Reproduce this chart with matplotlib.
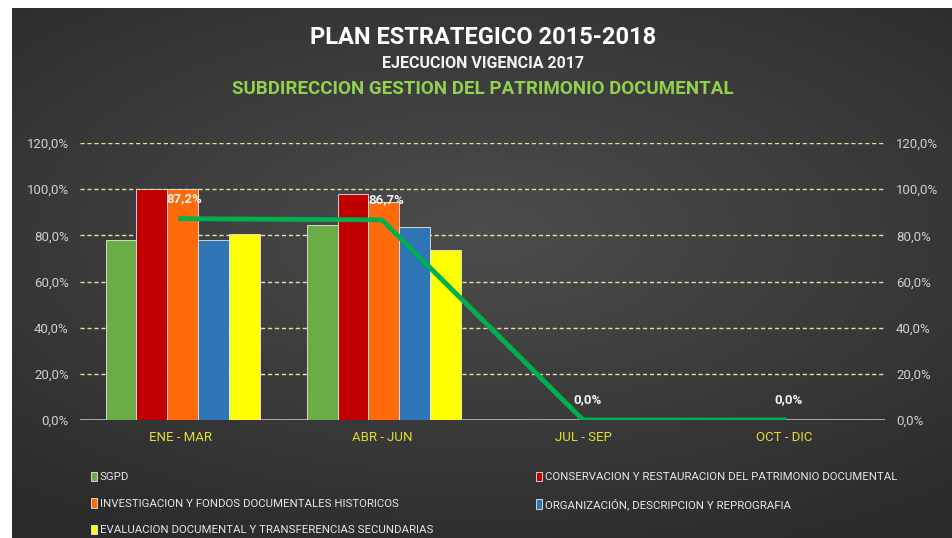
import numpy as np
import matplotlib.pyplot as plt
from matplotlib.patches import Patch

plt.rcParams['font.family'] = ['Roboto', 'DejaVu Sans']

# datos
periodos = ['ENE - MAR', 'ABR - JUN', 'JUL - SEP', 'OCT - DIC']
series = ['SGPD',
          'CONSERVACION Y RESTAURACION DEL PATRIMONIO DOCUMENTAL',
          'INVESTIGACION Y FONDOS DOCUMENTALES HISTORICOS',
          'ORGANIZACIÓN, DESCRIPCION Y REPROGRAFIA',
          'EVALUACION DOCUMENTAL Y TRANSFERENCIAS SECUNDARIAS']
sgpd = [0.78, 0.845, 0.0, 0.0]
conservacion = [1.00, 0.98, 0.0, 0.0]
investigacion = [1.00, 0.945, 0.0, 0.0]
organizacion = [0.78, 0.835, 0.0, 0.0]
evaluacion = [0.805, 0.735, 0.0, 0.0]
promedio = [0.872, 0.867, 0.0, 0.0]
colores = ['#6aac46', '#c00000', '#ff6a0a', '#2e75b6', '#ffff00']

fig = plt.figure(figsize=(9.53, 5.38), dpi=100, facecolor='white')

# fondo degradado oscuro
bg = fig.add_axes([12 / 953, 0, 1 - 12 / 953, 1 - 8 / 538])
yy, xx = np.mgrid[-1:1:200j, -1:1:300j]
r = np.clip(np.sqrt((xx * 0.85) ** 2 + ((yy + 0.15) * 1.0) ** 2), 0, 1.3)
g = 0.30 - 0.10 * r
img = np.dstack([g, g, g])
bg.imshow(img, aspect='auto', extent=[0, 1, 0, 1])
bg.axis('off')

ax = fig.add_axes([80 / 953, 1 - 420 / 538, 805 / 953, 277 / 538])
ax.set_facecolor('none')
x = np.arange(len(periodos))
w = 0.153
datos = [sgpd, conservacion, investigacion, organizacion, evaluacion]
handles = []
for i, (vals, c) in enumerate(zip(datos, colores)):
    ax.bar(x + (i - 2) * w + 0.01, vals, w, color=c, edgecolor='#e8e8e8', linewidth=0.6, zorder=3)
    handles.append(Patch(facecolor=c, edgecolor='#e8e8e8', linewidth=0.6, label=series[i]))

ax.plot(x, promedio, color='#00b050', linewidth=3.5, zorder=4)
for xi, v in zip(x, promedio):
    ax.text(xi + 0.02, v + 0.06, f'{v * 100:.1f}%'.replace('.', ','), ha='center', va='bottom',
            color='#f2f2f2', fontsize=9.5, fontweight='bold', zorder=5)

ax.set_xlim(-0.5, 3.5)
ax.set_ylim(0, 1.2)
ticks = np.arange(0, 1.21, 0.2)
ax.set_yticks(ticks)
ax.set_yticklabels([f'{t * 100:.1f}%'.replace('.', ',') for t in ticks])
for t in ticks[1:]:
    ax.axhline(t, color='#e6e0a0', linestyle=(0, (3, 2)), linewidth=1.0, zorder=1)
ax.axhline(0, color='#bfbfbf', linewidth=1.2, zorder=2)
ax.tick_params(axis='y', which='both', length=0, colors='#d0d0d0', labelsize=9.5,
               labelright=True, pad=8)
ax.set_xticks(x)
ax.set_xticklabels(periodos)
ax.tick_params(axis='x', length=0, colors='#e0e030', labelsize=9.5, pad=8)
for s in ax.spines.values():
    s.set_visible(False)

# titulos
fig.text(0.507, 1 - 38 / 538, 'PLAN ESTRATEGICO 2015-2018', ha='center', va='center',
         color='white', fontsize=17, fontweight='bold')
fig.text(0.507, 1 - 64 / 538, 'EJECUCION VIGENCIA 2017', ha='center', va='center',
         color='#f2f2f2', fontsize=11.5, fontweight='bold')
fig.text(0.507, 1 - 89 / 538, 'SUBDIRECCION GESTION DEL PATRIMONIO DOCUMENTAL', ha='center',
         va='center', color='#92d050', fontsize=13.5, fontweight='bold')

# leyenda
leg_kw = dict(frameon=False, labelcolor='#e6e6e6', fontsize=8.2, handlelength=0.6,
              handleheight=0.9, handletextpad=0.2, labelspacing=1.4, borderaxespad=0)
fig.legend(handles=[handles[0], handles[2], handles[4]], loc='upper left',
           bbox_to_anchor=(86 / 953, 1 - 467 / 538), **leg_kw)
fig.legend(handles=[handles[1], handles[3]], loc='upper left',
           bbox_to_anchor=(531 / 953, 1 - 467 / 538), **leg_kw)

plt.savefig('out.png', dpi=100, facecolor='white')
